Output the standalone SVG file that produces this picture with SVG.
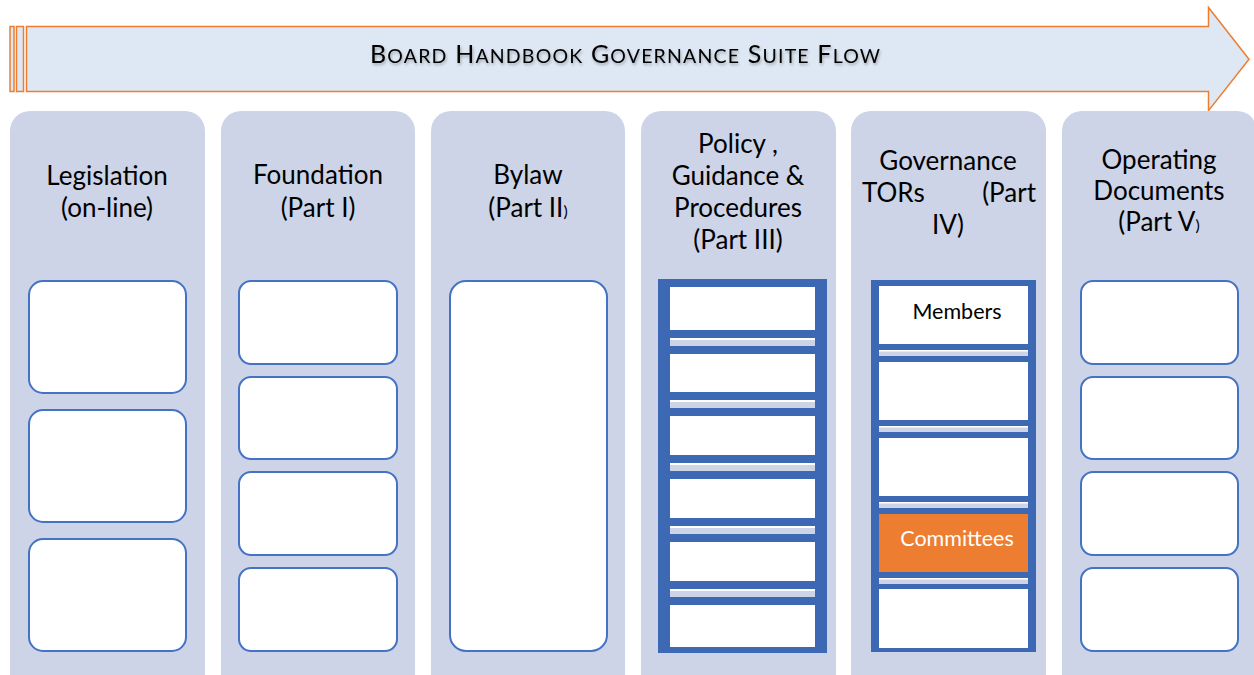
<svg xmlns="http://www.w3.org/2000/svg" width="1254" height="675" viewBox="0 0 1254 675">
<defs>
<style>
.col{fill:#CDD4E8;}
.box{fill:#FFFFFF;stroke:#4472C4;stroke-width:2;}
.hd{font-family:Lato,"Liberation Sans",sans-serif;font-size:26px;fill:#000;}
.frame{fill:#3D68B4;}
.seg{fill:#FFFFFF;}
.strip{fill:#CDD4E8;}
.sl{fill:#FFFFFF;}
.lbl{font-family:Lato,"Liberation Sans",sans-serif;font-size:21.5px;}
</style>
<filter id="sh" x="-5%" y="-30%" width="110%" height="160%">
<feGaussianBlur in="SourceAlpha" stdDeviation="1.5"/>
<feOffset dx="1" dy="2" result="b"/>
<feComponentTransfer><feFuncA type="linear" slope="0.3"/></feComponentTransfer>
<feMerge><feMergeNode/><feMergeNode in="SourceGraphic"/></feMerge>
</filter>
</defs>
<rect width="1254" height="675" fill="#FFFFFF"/>

<g id="flow-arrow">
<rect x="10" y="26.5" width="4" height="65" fill="#DEE8F4" stroke="#ED7D31" stroke-width="1.5"/>
<rect x="16.5" y="26.5" width="7" height="65" fill="#DEE8F4" stroke="#ED7D31" stroke-width="1.5"/>
<path d="M26.5 26.5 H1208.5 V7.5 L1249 59.3 L1208.5 110.7 V91.5 H26.5 Z" fill="#DEE8F4" stroke="#ED7D31" stroke-width="1.5"/>
<text x="625" y="63" text-anchor="middle" font-family="Lato,'Liberation Sans',sans-serif" font-size="25" fill="#000" filter="url(#sh)" textLength="510" lengthAdjust="spacing">B<tspan font-size="19.5">OARD</tspan> H<tspan font-size="19.5">ANDBOOK</tspan> G<tspan font-size="19.5">OVERNANCE</tspan> S<tspan font-size="19.5">UITE</tspan> F<tspan font-size="19.5">LOW</tspan></text>
</g>

<g id="col-legislation" text-anchor="middle">
<rect class="col" x="10" y="111" width="195" height="600" rx="20"/>
<text class="hd" x="107" y="185">Legislation</text>
<text class="hd" x="107" y="217">(on-line)</text>
<rect class="box" x="29" y="281" width="157" height="112" rx="14"/>
<rect class="box" x="29" y="410" width="157" height="112" rx="14"/>
<rect class="box" x="29" y="539" width="157" height="112" rx="14"/>
</g>

<g id="col-foundation" text-anchor="middle">
<rect class="col" x="221" y="111" width="194" height="600" rx="20"/>
<text class="hd" x="318" y="184">Foundation</text>
<text class="hd" x="318" y="217">(Part I)</text>
<rect class="box" x="239" y="281" width="158" height="83" rx="12"/>
<rect class="box" x="239" y="377" width="158" height="82" rx="12"/>
<rect class="box" x="239" y="472" width="158" height="83" rx="12"/>
<rect class="box" x="239" y="568" width="158" height="83" rx="12"/>
</g>

<g id="col-bylaw" text-anchor="middle">
<rect class="col" x="431" y="111" width="194" height="600" rx="20"/>
<text class="hd" x="528" y="184">Bylaw</text>
<text class="hd" x="528" y="217">(Part II<tspan font-size="16">)</tspan></text>
<rect class="box" x="450" y="281" width="157" height="370" rx="16"/>
</g>

<g id="col-policy" text-anchor="middle">
<rect class="col" x="641" y="111" width="195" height="600" rx="20"/>
<text class="hd" x="738" y="153">Policy ,</text>
<text class="hd" x="738" y="185">Guidance &amp;</text>
<text class="hd" x="738" y="217">Procedures</text>
<text class="hd" x="738" y="249">(Part III)</text>
<rect class="frame" x="658" y="279" width="169" height="374"/>
<rect class="seg" x="670" y="287" width="145" height="43"/>
<rect class="strip" x="670" y="338" width="145" height="8"/><rect class="sl" x="670" y="338" width="145" height="2"/>
<rect class="seg" x="670" y="354" width="145" height="38"/>
<rect class="strip" x="670" y="400" width="145" height="8"/><rect class="sl" x="670" y="400" width="145" height="2"/>
<rect class="seg" x="670" y="416" width="145" height="39"/>
<rect class="strip" x="670" y="463" width="145" height="8"/><rect class="sl" x="670" y="463" width="145" height="2"/>
<rect class="seg" x="670" y="479" width="145" height="39"/>
<rect class="strip" x="670" y="526" width="145" height="8"/><rect class="sl" x="670" y="526" width="145" height="2"/>
<rect class="seg" x="670" y="542" width="145" height="39"/>
<rect class="strip" x="670" y="589" width="145" height="8"/><rect class="sl" x="670" y="589" width="145" height="2"/>
<rect class="seg" x="670" y="605" width="145" height="42"/>
</g>

<g id="col-governance">
<rect class="col" x="851" y="111" width="195" height="600" rx="20"/>
<text class="hd" x="948" y="170" text-anchor="middle">Governance</text>
<text class="hd" x="862" y="202" text-anchor="start">TORs</text>
<text class="hd" x="1036" y="202" text-anchor="end">(Part</text>
<text class="hd" x="948" y="234" text-anchor="middle">IV)</text>
<rect class="frame" x="871" y="280" width="165" height="372"/>
<rect class="seg" x="879" y="286" width="149" height="58"/>
<rect class="strip" x="879" y="350" width="149" height="6"/><rect class="sl" x="879" y="350" width="149" height="1.5"/>
<rect class="seg" x="879" y="362" width="149" height="58"/>
<rect class="strip" x="879" y="426" width="149" height="6"/><rect class="sl" x="879" y="426" width="149" height="1.5"/>
<rect class="seg" x="879" y="438" width="149" height="58"/>
<rect class="strip" x="879" y="502" width="149" height="6"/><rect class="sl" x="879" y="502" width="149" height="1.5"/>
<rect x="879" y="514" width="149" height="58" fill="#ED7D31"/>
<rect class="strip" x="879" y="578" width="149" height="6"/><rect class="sl" x="879" y="578" width="149" height="1.5"/>
<rect class="seg" x="879" y="589" width="149" height="59"/>
<text class="lbl" x="957" y="319" fill="#000" text-anchor="middle">Members</text>
<text class="lbl" x="957" y="546" fill="#FFFFFF" text-anchor="middle">Committees</text>
</g>

<g id="col-operating" text-anchor="middle">
<rect class="col" x="1062" y="111" width="195" height="600" rx="20"/>
<text class="hd" x="1159" y="169">Operating</text>
<text class="hd" x="1159" y="200">Documents</text>
<text class="hd" x="1159" y="231">(Part V<tspan font-size="16">)</tspan></text>
<rect class="box" x="1081" y="281" width="157" height="83" rx="12"/>
<rect class="box" x="1081" y="377" width="157" height="82" rx="12"/>
<rect class="box" x="1081" y="472" width="157" height="83" rx="12"/>
<rect class="box" x="1081" y="568" width="157" height="83" rx="12"/>
</g>

<g id="connectors"></g>
</svg>
